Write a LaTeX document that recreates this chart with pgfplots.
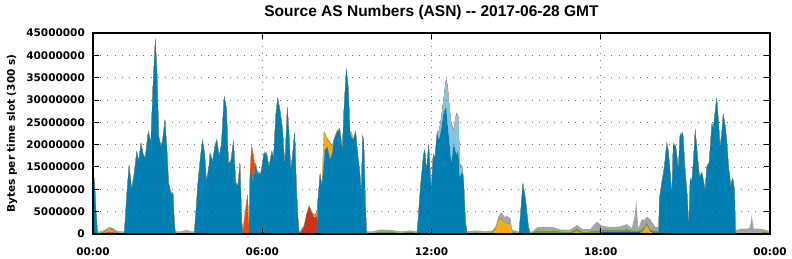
\documentclass[border=0pt]{standalone}
\usepackage{fontspec}
\setmainfont{DejaVu Sans}
\newfontfamily\titlefont{Liberation Sans}
\usepackage{pgfplots}
\usepackage{pgfplotstable}
\pgfplotsset{compat=1.18}
\definecolor{cbl}{RGB}{0,128,178}
\definecolor{clb}{RGB}{135,195,228}
\definecolor{crd}{RGB}{200,50,30}
\definecolor{cor}{RGB}{228,78,10}
\definecolor{cog}{RGB}{250,170,20}
\definecolor{cdb}{RGB}{40,80,170}
\definecolor{cgr}{RGB}{100,160,40}
\definecolor{cgy}{RGB}{165,165,165}
% values in millions of bytes per 300 s slot
\pgfplotstableread{
t bl lb rd or og db gr gy
0.00 13.5 0 0 0 0 0 0.2 0.25
0.05 12.0 0 0 0 0 0 0.2 0.25
0.11 5.0 0 0 0 0 0 0.2 0.25
0.16 0 0 0 0 0 0 0.3 0.3
0.28 0 0 0 0 0 0 0.3 0.3
0.42 0 0 0 0.3 0.1 0 0.25 0.3
0.57 0 0 0 0.6 0.4 0 0.25 0.35
0.71 0 0 0 0.5 0.3 0 0.25 0.3
0.85 0 0 0 0.1 0 0 0.3 0.3
0.99 0 0 0 0 0 0 0.3 0.3
1.10 0 0 0 0 0 0 0.3 0.3
1.13 2.0 0 0 0 0 0 0.2 0.25
1.20 9.0 0 0 0 0 0 0.2 0.25
1.28 15.4 0 0 0 0 0 0.2 0.25
1.37 9.8 0 0 0 0 0 0.2 0.25
1.46 13.4 0 0 0 0 0 0.2 0.25
1.55 18.4 0 0 0 0 0 0.2 0.25
1.62 16.2 0 0 0 0 0 0.2 0.25
1.70 20.3 0 0 0 0 0 0.2 0.25
1.78 17.7 0 0 0 0 0 0.2 0.25
1.85 16.9 0 0 0 0 0 0.2 0.25
1.96 22.9 0 0 0 0 0 0.2 0.25
2.05 20.3 0 0 0 0 0 0.2 0.25
2.12 32.2 0 0 0 0 0 0.2 0.25
2.21 43.6 0 0 0 0 0 0.2 0.25
2.27 35.6 0 0 0 0 0 0.2 0.25
2.33 21.8 0 0 0 0 0 0.2 0.25
2.41 19.5 0 0 0 0 0 0.2 0.25
2.47 21.0 0 0 0 0 0 0.2 0.25
2.55 25.5 0 0 0 0 0 0.2 0.25
2.62 18.8 0 0 0 0 0 0.2 0.25
2.68 11.3 0 0 0 0 0 0.2 0.25
2.76 9.1 0 0 0 0 0 0.2 0.25
2.84 8.9 0 0 0 0 0 0.2 0.25
2.88 3.0 0 0 0 0 0 0.2 0.25
2.92 0 0 0 0 0 0 0.3 0.3
3.12 0 0 0 0 0 0 0.3 0.3
3.33 0 0 0 0 0 0 0.3 0.6
3.47 0 0 0 0 0 0 0.3 0.3
3.59 0 0 0 0 0 0 0.3 0.3
3.65 5.0 0 0 0 0 0 0.2 0.25
3.71 10.6 0 0 0 0 0 0.2 0.25
3.80 16.6 0 0 0 0 0 0.2 0.25
3.88 21.0 0 0 0 0 0 0.2 0.25
3.96 17.7 0 0 0 0 0 0.2 0.25
4.02 11.7 0 0 0 0 0 0.2 0.25
4.11 15.0 0 0 0 0 0 0.2 0.25
4.15 18.0 0 0 0 0 0 0.2 0.25
4.24 16.2 0 0 0 0 0 0.2 0.25
4.32 19.5 0 0 0 0 0 0.2 0.25
4.39 21.0 0 0 0 0 0 0.2 0.25
4.47 17.3 0 0 0 0 0 0.2 0.25
4.55 19.8 0 0 0 0 0 0.2 0.25
4.65 30.7 0 0 0 0 0 0.2 0.25
4.73 28.1 0 0 0 0 0 0.2 0.25
4.80 15.8 0 0 0 0 0 0.2 0.25
4.88 16.0 0 0 0 0 0 0.2 0.25
4.98 20.7 0 0 0 0 0 0.2 0.25
5.06 11.3 0 0 0 0 0 0.2 0.25
5.14 10.8 0 0 0 0 0 0.2 0.25
5.21 15.8 0 0 0 0 0 0.2 0.25
5.27 3.0 0 0 0 0 0 0.2 0.25
5.31 0 0 0 0.5 0 0 0.1 0.15
5.40 0 0 0 5.0 0 0 0.1 0.2
5.48 0 0 0 8.7 0 0 0.1 0.2
5.53 0 0 0 1.0 0 0 0.1 0.2
5.57 13.6 0 0 0.5 0 0 0.2 0.25
5.62 13.6 0 0 5.9 0 0 0.2 0.25
5.69 11.3 0 0 6.0 0 0 0.2 0.25
5.73 14.5 0 0 1.0 0 0 0.2 0.25
5.77 15.4 0 0 0 0 0 0.2 0.25
5.83 13.6 0 0 0 0 0 0.2 0.25
5.95 13.4 0 0 0 0 0 0.2 0.25
6.06 18.0 0 0 0 0 0 0.2 0.25
6.15 18.0 0 0 0 0 0 0.2 0.25
6.24 15.0 0 0 0 0 0 0.2 0.25
6.34 18.4 0 0 0 0 0 0.2 0.25
6.40 17.0 0 0 0 0 0 0.2 0.25
6.48 26.6 0 0 0 0 0 0.2 0.25
6.55 30.4 0 0 0 0 0 0.2 0.25
6.63 27.5 0 0 0 0 0 0.2 0.25
6.71 23.9 0 0 0 0 0 0.2 0.25
6.80 15.4 0 0 0 0 0 0.2 0.25
6.89 28.4 0 0 0 0 0 0.2 0.25
6.95 22.0 0 0 0 0 0 0.2 0.25
7.01 14.2 0 0 0 0 0 0.2 0.25
7.08 18.0 0 0 0 0 0 0.2 0.25
7.15 22.7 0 0 0 0 0 0.2 0.25
7.21 10.6 0 0 0 0 0 0.2 0.25
7.27 3.0 0 0 0 0 0 0.2 0.25
7.31 0 0 0 0 0 0 0.3 0.2
7.36 0 0 0.3 0 0 0 0.3 0.2
7.48 0 0 1.6 0 0 0 0.2 0.2
7.58 0 0 4.5 0 0 0 0.2 0.2
7.66 0 0 6.1 0 0 0 0.2 0.2
7.75 0 0 4.8 0 0 0 0.2 0.2
7.84 0 0 3.6 0 0.4 0 0.2 0.2
7.93 0 0 4.0 0 0.5 0 0.2 0.2
7.98 7.8 0 0.3 0 0 0 0.2 0.25
8.05 13.4 0 0 0 0 0 0.2 0.25
8.11 10.6 0 0 0 0 0 0.2 0.25
8.19 15.8 0 0 0 6.9 0 0.2 0.25
8.22 18.8 0 0 0 3.5 0 0.2 0.25
8.31 19.5 0 0 0 1.5 0 0.2 0.25
8.40 16.6 0 0 0 3.7 0 0.2 0.25
8.48 18.0 0 0 0 1.5 0 0.2 0.25
8.54 21.0 0 0 0 0 0 0.2 0.25
8.66 22.9 0 0 0 0 0 0.2 0.25
8.75 23.3 0 0 0 0 0 0.2 0.25
8.84 18.8 0 0 0 0 0 0.2 0.25
8.89 27.0 0 0 0 0 0 0.2 0.25
8.98 36.9 0 0 0 0 0 0.2 0.25
9.05 32.6 0 0 0 0 0 0.2 0.25
9.11 22.7 0 0 0 0 0 0.2 0.25
9.17 21.5 0 0 0 0.8 0 0.2 0.25
9.23 21.0 0 0 0 0 0 0.2 0.25
9.31 22.9 0 0 0 0 0 0.2 0.25
9.39 17.3 0 0 0 0 0 0.2 0.25
9.46 13.6 0 0 0 0 0 0.2 0.25
9.51 9.1 0 0 0 0 0 0.2 0.25
9.56 22.0 0 0 0 0 0 0.2 0.25
9.60 20.5 0 0 0 0 0 0.2 0.25
9.65 8.0 0 0 0 0 0 0.2 0.25
9.70 0 0 0 0 0 0 0.3 0.3
9.91 0 0 0 0 0 0 0.3 0.3
10.19 0 0 0 0 0 0 0.5 0.5
10.55 0 0 0 0.1 0 0 0.4 0.4
10.90 0 0 0 0 0 0 0.3 0.3
11.26 0 0 0 0.1 0 0 0.4 0.3
11.47 0 0 0 0 0 0 0.3 0.3
11.49 0 0 0 0 0 0 0.3 0.3
11.61 10.6 0 0 0 0 0 0.2 0.25
11.71 17.3 0 0 0 0 0 0.2 0.25
11.76 18.8 0 0 0 0 0 0.2 0.25
11.82 14.2 0 0 0 0 0 0.2 0.25
11.90 20.0 0 0 0 0 0 0.2 0.25
11.99 9.8 0 0 0 0 0 0.2 0.25
12.06 17.7 0 0 0 0 0 0.2 0.25
12.12 16.9 0 0 0 0 0 0.2 0.25
12.20 22.7 0 0 0 0 0 0.2 0.25
12.26 21.0 1.7 0 0 0 0 0.2 0.25
12.34 23.3 2.2 0 0 0 0 0.2 0.25
12.43 27.3 2.7 0 0 0 0 0.2 0.25
12.52 28.4 6.1 0 0 0 0 0.2 0.25
12.57 24.6 8.3 0 0 0 0 0.2 0.25
12.64 20.3 7.6 0 0 0 0 0.2 0.25
12.70 15.8 8.8 0 0 0 0 0.2 0.25
12.79 20.3 2.7 0 0 0 0 0.2 0.25
12.88 17.7 9.1 0 0 0 0 0.2 0.25
12.95 18.8 7.3 0 0 0 0 0.2 0.25
13.00 12.7 2.7 0 0 0 0 0.2 0.25
13.09 14.0 0.8 0 0 0 0 0.2 0.25
13.14 11.7 0 0 0 0 0 0.2 0.25
13.20 3.0 0 0 0 0 0 0.2 0.25
13.26 0 0 0 0 0 0 0.3 0.3
13.56 0 0 0 0.1 0 0 0.3 0.4
13.91 0 0 0 0 0 0 0.3 0.3
14.16 0 0 0 0.1 0 0 0.3 0.4
14.27 0 0 0 0.1 0.8 0 0.3 0.5
14.37 0 0 0 0.1 2.8 0 0.2 0.8
14.44 0 0 0 0.1 3.3 0 0.2 1.0
14.50 0 0 0 0.1 3.0 0 0.2 1.5
14.58 0 0 0 0.1 2.3 0 0.2 1.3
14.68 0 0 0 0.1 2.2 0 0.2 1.5
14.80 0 0 0 0.1 2.0 0 0.2 1.2
14.86 0 0 0 0.1 0.2 0 0.3 0.3
14.97 0 0 0 0.1 0 0 0.3 0.4
15.10 0 0 0 0 0 0 0.2 0.3
15.15 4.0 0 0 0 0 0 0.2 0.25
15.24 11.3 0 0 0 0 0 0.2 0.25
15.33 7.8 0 0 0 0 0 0.2 0.25
15.44 1.3 0 0 0 0 0 0.2 0.25
15.50 0 0 0 0 0 0 0.2 0.3
15.61 0 0 0 0 0 0.1 0.3 0.3
15.75 0 0 0 0.1 0 0.1 0.6 0.7
16.04 0 0 0 0.1 0 0.1 0.6 0.8
16.32 0 0 0 0.1 0 0.1 0.5 0.8
16.57 0 0 0 0.1 0 0.1 0.4 0.4
16.92 0 0 0 0 0 0.1 0.4 0.5
17.16 0 0 0 0.3 0.3 0.1 0.5 0.8
17.35 0 0 0 0 0 0.1 0.4 0.6
17.63 0 0 0 0 0 0.2 0.4 0.5
17.86 0 0 0 0.1 0 0.2 0.5 2.0
18.05 0 0 0 0.1 0 0.3 0.5 0.9
18.34 0 0 0 0.1 0 0.3 0.5 0.7
18.62 0 0 0 0.1 0 0.3 0.5 0.7
18.93 0 0 0 0.1 0.1 0.3 0.6 1.1
19.10 0 0 0 0.1 0 0.3 0.4 0.5
19.20 0 0 0 0.1 0 0.3 0.4 3.2
19.26 0 0 0 0.1 0 0.3 0.4 6.7
19.33 0 0 0 0.1 0 0.3 0.4 0.5
19.46 0 0 0 0.2 0.2 0.2 0.4 2.3
19.54 0 0 0 0.3 0.7 0.2 0.4 1.5
19.63 0 0 0 0.4 1.6 0.2 0.4 1.3
19.75 0 0 0 0.2 0.3 0.2 0.4 2.2
19.93 0 0 0 0.1 0 0.2 0.4 0.9
20.05 0 0 0 0.1 0 0.1 0.4 1.0
20.08 7.8 0 0 0 0 0 0.2 0.25
20.16 11.3 0 0 0 0 0 0.2 0.25
20.25 14.7 0 0 0 0 0 0.2 0.25
20.34 20.0 0 0 0.4 0 0 0.2 0.25
20.40 18.4 0 0 0 0 0 0.2 0.25
20.52 8.9 0 0 0 0 0 0.2 0.25
20.57 20.0 0 0 0 0 0 0.2 0.25
20.66 19.5 0 0 0 0 0 0.2 0.25
20.75 14.5 0 0 0 0 0 0.2 0.25
20.81 22.0 0 0 0 0 0 0.2 0.25
20.91 22.5 0 0 0 0 0 0.2 0.25
20.99 14.2 0 0 0 0 0 0.2 0.25
21.07 8.2 0 0 0 0 0 0.2 0.25
21.12 1.6 0 0 0 0 0 0.2 0.25
21.17 12.2 0 0 0 0 0 0.2 0.25
21.23 11.8 0 0 0 0 0 0.2 0.25
21.28 15.8 0 0 0 0 0 0.2 0.25
21.35 23.3 0 0 0 0 0 0.2 0.25
21.43 17.3 0 0 0 0 0 0.2 0.25
21.50 12.7 0 0 0 0 0 0.2 0.25
21.59 13.6 0 0 0 0 0 0.2 0.25
21.70 9.8 0 0 0 0 0 0.2 0.25
21.76 15.0 0 0 0 0 0 0.2 0.25
21.84 15.8 0 0 0 0 0 0.2 0.25
21.94 24.6 0 0 0 0 0 0.2 0.25
21.99 23.5 0 0 0 0 0 0.2 0.25
22.05 27.0 0 0 0 0 0 0.2 0.25
22.11 30.4 0 0 0 0 0 0.2 0.25
22.17 25.5 0 0 0 0 0 0.2 0.25
22.23 19.5 0 0 0 0 0 0.2 0.25
22.29 22.5 0 0 0 0 0 0.2 0.25
22.34 26.8 0 0 0 0 0 0.2 0.25
22.41 24.2 0 0 0 0 0 0.2 0.25
22.47 20.5 0 0 0 0 0 0.2 0.25
22.53 15.0 0 0 0 0 0 0.2 0.25
22.61 10.6 0 0 0.4 0 0 0.2 0.25
22.68 12.4 0 0 0 0 0 0.2 0.25
22.74 9.8 0 0 0 0 0 0.2 0.25
22.78 0 0 0 0 0 0 0.3 0.5
22.94 0 0 0 0 0 0 0.3 0.9
23.22 0 0 0 0 0 0 0.3 0.9
23.29 0 0 0 0 0 0 0.3 1.2
23.35 0 0 0 0 0 0 0.3 3.9
23.42 0 0 0 0 0 0 0.3 0.9
23.65 0 0 0 0 0 0 0.3 0.9
23.82 0 0 0 0.1 0 0 0.4 0.5
24.00 0 0 0 0 0 0 0.3 0.3
}\data
\begin{document}
\begin{tikzpicture}
\useasboundingbox (0,0) rectangle (792pt,259pt);
\begin{axis}[
  at={(93pt,25pt)}, anchor=south west,
  scale only axis, width=677pt, height=201pt,
  stack plots=y, area style,
  xmin=0, xmax=24, ymin=0, ymax=45,
  xtick={0,6,12,18,24},
  xticklabels={00:00,06:00,12:00,18:00,00:00},
  ytick={0,5,10,15,20,25,30,35,40,45},
  yticklabels={0,5000000,10000000,15000000,20000000,25000000,30000000,35000000,40000000,45000000},
  /pgf/number format/assume math mode=true,
  tick align=inside, xtick pos=both, ytick pos=both,
  major tick length=6pt,
  every tick/.style={black, line width=1pt},
  axis line style={black, line width=1.1pt},
  grid=major,
  major grid style={black!55, line width=0.9pt, dash pattern=on 0.9pt off 6.3pt},
  every tick label/.append style={font=\bfseries\fontsize{10.5}{12}\selectfont},
  xticklabel style={anchor=base, yshift=-21.5pt},
  yticklabel style={anchor=east, inner sep=0pt, xshift=-8pt},
  title={Source AS Numbers (ASN) -{}- 2017-06-28 GMT},
  title style={at={(0.5,1)}, anchor=base, yshift=10.3pt, font=\titlefont\bfseries\fontsize{15.5}{17}\selectfont},
  ylabel={Bytes per time slot (300 s)},
  ylabel style={at={(axis description cs:-0.1196,0.5)}, anchor=center, font=\bfseries\fontsize{10.5}{12}\selectfont},
]
\addplot[fill=cbl, draw=none] table[x=t, y=bl] {\data} \closedcycle;
\addplot[fill=clb, draw=none] table[x=t, y=lb] {\data} \closedcycle;
\addplot[fill=crd, draw=none] table[x=t, y=rd] {\data} \closedcycle;
\addplot[fill=cor, draw=none] table[x=t, y=or] {\data} \closedcycle;
\addplot[fill=cog, draw=none] table[x=t, y=og] {\data} \closedcycle;
\addplot[fill=cdb, draw=none] table[x=t, y=db] {\data} \closedcycle;
\addplot[fill=cgr, draw=none] table[x=t, y=gr] {\data} \closedcycle;
\addplot[fill=cgy, draw=none] table[x=t, y=gy] {\data} \closedcycle;
\end{axis}
\end{tikzpicture}
\end{document}
